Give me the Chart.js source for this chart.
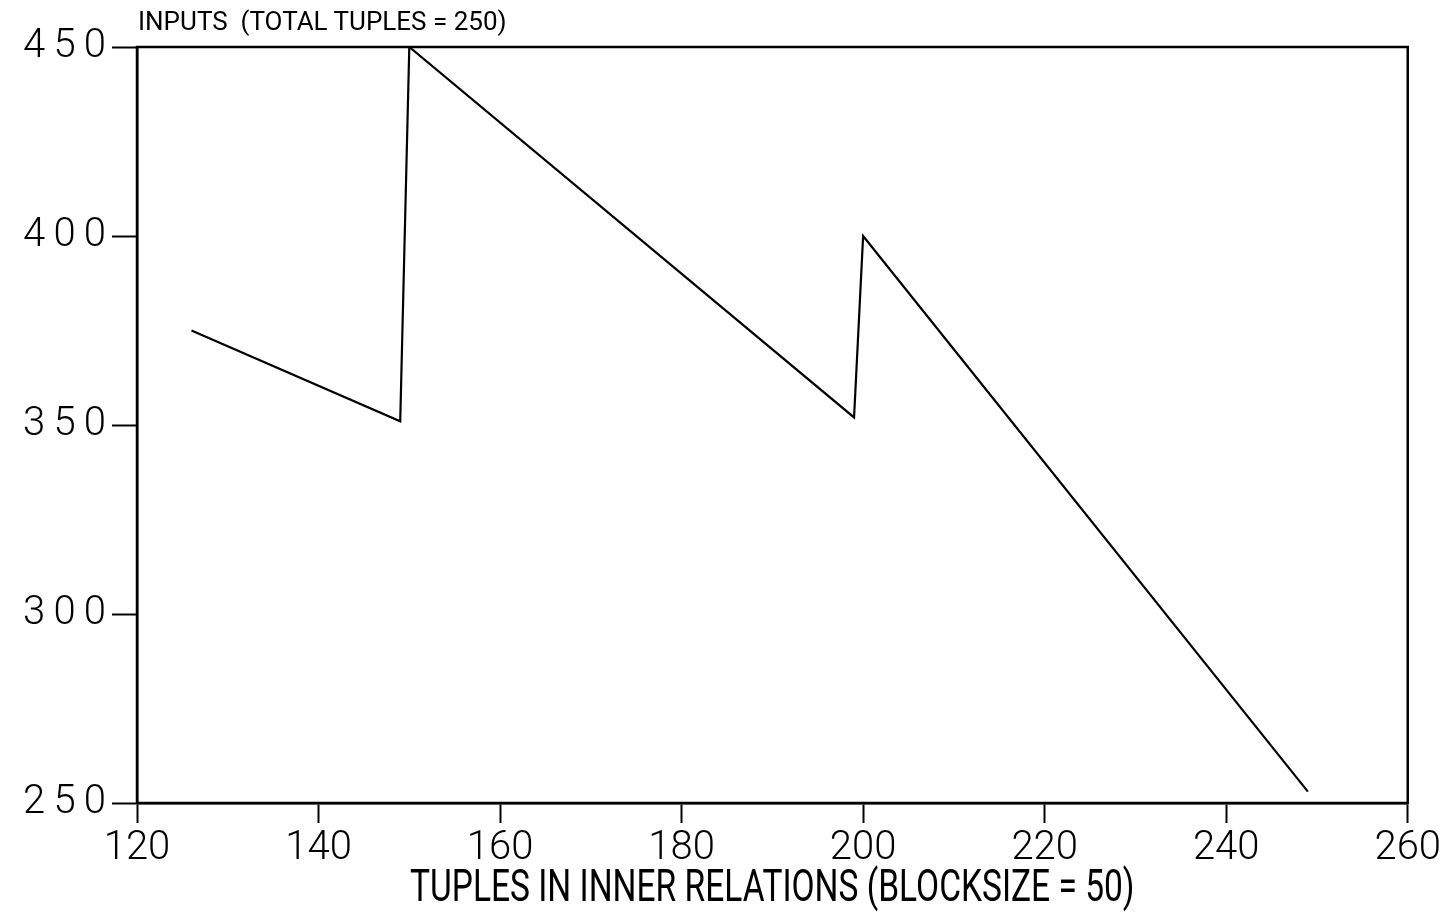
<!DOCTYPE html>
<html>
<head>
<meta charset="utf-8">
<title>Inputs</title>
<script src="https://cdn.jsdelivr.net/npm/chart.js@4/dist/chart.umd.min.js"></script>
<style>
  body { margin: 0; background: #fff; }
  .wrap { position: relative; width: 1443px; height: 918px; }
  .lbl {
    position: absolute; font-family: 'Roboto', sans-serif; color: #000;
    white-space: pre; transform-origin: 0 0;
  }
  #topTitle { left: 138px; top: 6px; font-size: 26px; }
  #xTitle { left: 410px; top: 859px; font-size: 45px; transform: scaleX(0.745); }
</style>
</head>
<body>
<div class="wrap">
  <canvas id="chart" width="1443" height="918"></canvas>
  <div id="topTitle" class="lbl">INPUTS  (TOTAL TUPLES = 250)</div>
  <div id="xTitle" class="lbl">TUPLES IN INNER RELATIONS (BLOCKSIZE = 50)</div>
</div>
<script>
// values
var innerTuples = [126, 149, 150, 199, 200, 249];
var inputs = [375, 351, 450, 352, 400, 253];
var xTicks = [120, 140, 160, 180, 200, 220, 240, 260];
var yTicks = [250, 300, 350, 400, 450];

var points = innerTuples.map(function (x, i) { return { x: x, y: inputs[i] }; });

// box round the plot area
var frame = {
  id: 'frame',
  afterDraw: function (chart) {
    var a = chart.chartArea, ctx = chart.ctx;
    ctx.save();
    ctx.strokeStyle = '#000';
    ctx.lineWidth = 2.5;
    ctx.strokeRect(a.left, a.top, a.right - a.left, a.bottom - a.top);
    ctx.restore();
  }
};

new Chart(document.getElementById('chart').getContext('2d'), {
  type: 'scatter',
  data: {
    datasets: [{
      data: points,
      showLine: true,
      borderColor: '#000',
      borderWidth: 2.2,
      pointRadius: 0,
      tension: 0
    }]
  },
  options: {
    responsive: false,
    animation: false,
    layout: { padding: { left: 0, top: 47, right: 34, bottom: 0 } },
    plugins: { legend: { display: false }, tooltip: { enabled: false } },
    scales: {
      x: {
        type: 'linear', min: 120, max: 260,
        afterBuildTicks: function (s) { s.ticks = xTicks.map(function (v) { return { value: v }; }); },
        afterFit: function (s) { s.height = 115; },
        border: { color: '#000', width: 2.5 },
        grid: { drawOnChartArea: false, drawTicks: true, tickLength: 20, tickColor: '#000', tickWidth: 2 },
        ticks: {
          color: '#000', padding: 2, maxRotation: 0,
          font: { family: "'Roboto', sans-serif", size: 40, weight: '300' }
        }
      },
      y: {
        type: 'linear', min: 250, max: 450,
        afterBuildTicks: function (s) { s.ticks = yTicks.map(function (v) { return { value: v }; }); },
        afterFit: function (s) { s.width = 137; },
        border: { color: '#000', width: 2.5 },
        grid: { drawOnChartArea: false, drawTicks: true, tickLength: 25, tickColor: '#000', tickWidth: 2 },
        ticks: {
          color: '#000', padding: 6,
          font: { family: "'Roboto', sans-serif", size: 40, weight: '300' },
          // the plotter font is widely spaced
          callback: function (v) { return String(v).split('').join('\u200A\u200A'); }
        }
      }
    }
  },
  plugins: [frame]
});
</script>
</body>
</html>
